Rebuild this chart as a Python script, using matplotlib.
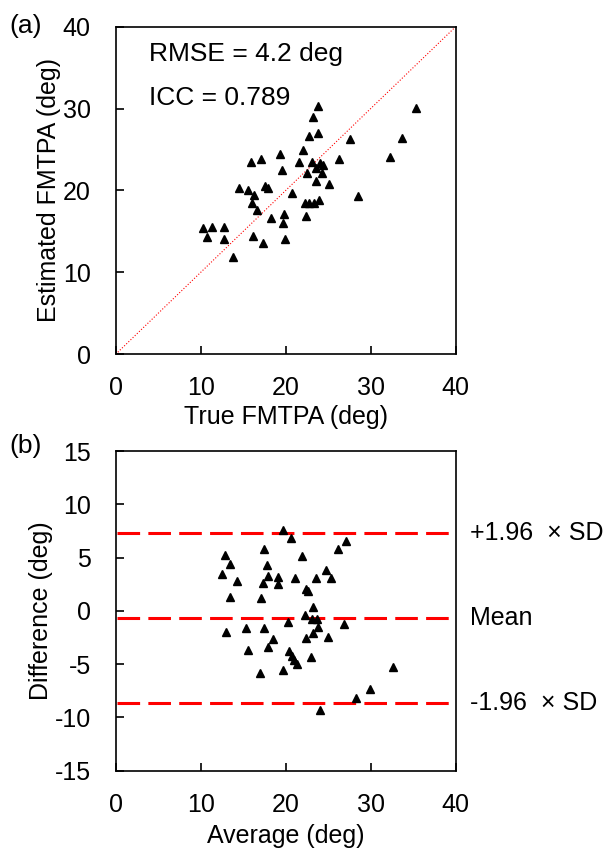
"""Estimated vs true FMTPA scatter (a) and Bland-Altman plot (b)."""
import numpy as np
import matplotlib.pyplot as plt
import matplotlib as mpl

mpl.rcParams.update({
    "font.family": ["Liberation Sans", "DejaVu Sans"],
    "font.size": 18,
    "axes.unicode_minus": False,
    "axes.linewidth": 1.2,
})

# (a) true vs estimated FMTPA (deg)
true_deg = [23.76, 23.25, 23.76, 22.78, 27.56, 22.0, 19.33, 17.09, 15.88, 26.27,
            32.27, 21.6, 23.06, 24.04, 24.42, 23.56, 19.53, 22.54, 24.23, 23.56,
            25.13, 14.54, 15.6, 17.56, 17.95, 16.27, 20.78, 28.54, 16.0, 22.27,
            22.78, 23.33, 23.95, 16.59, 19.84, 18.23, 22.39, 19.64, 10.23, 11.29,
            12.78, 10.78, 12.78, 16.12, 19.92, 17.37, 13.76, 35.33, 33.65]
est_deg = [30.3, 29.0, 27.0, 26.6, 26.25, 24.95, 24.45, 23.9, 23.5, 23.85,
           24.05, 23.44, 23.44, 23.3, 23.1, 22.7, 22.5, 22.17, 22.1, 21.1,
           20.8, 20.35, 20.0, 20.55, 20.35, 19.45, 19.66, 19.33, 18.44, 18.51,
           18.51, 18.51, 18.84, 17.62, 17.13, 16.68, 16.89, 16.07, 15.46, 15.5,
           15.5, 14.36, 14.04, 14.48, 14.08, 13.63, 11.92, 30.04, 26.37]

# (b) Bland-Altman: average vs difference (deg)
avg_deg = [19.65, 20.59, 27.09, 26.11, 17.45, 12.86, 21.88, 13.45, 17.76, 12.54,
           17.88, 19.13, 21.09, 24.74, 23.53, 25.33, 14.23, 17.37, 19.13, 22.39,
           22.66, 13.45, 17.09, 23.25, 22.27, 23.06, 23.72, 23.84, 26.86, 20.24,
           23.25, 12.94, 15.33, 17.45, 18.55, 22.35, 25.01, 17.88, 15.6, 20.39,
           20.7, 20.98, 21.37, 22.98, 19.72, 16.98, 28.24, 29.92, 24.04, 32.66]
diff_deg = [7.59, 6.81, 6.59, 5.78, 5.81, 5.25, 5.16, 4.41, 4.28, 3.47,
            3.28, 3.16, 3.12, 3.84, 3.06, 3.12, 2.81, 2.59, 2.5, 2.03,
            1.88, 1.34, 1.19, 0.4, -0.37, -0.78, -0.78, -1.47, -1.25, -1.09,
            -2.03, -1.94, -1.62, -1.62, -2.65, -2.56, -2.41, -3.41, -3.66, -3.81,
            -4.28, -4.59, -5.0, -4.34, -5.53, -5.84, -8.18, -7.34, -9.28, -5.22]

mean_diff = -0.63
upper_loa = 7.35
lower_loa = -8.61
rmse = 4.2
icc = 0.789

RED = "#ff0000"

fig = plt.figure(figsize=(6.13, 8.52), dpi=100)
ax1 = fig.add_axes([0.1887, 0.5842, 0.5547, 0.3845])
ax2 = fig.add_axes([0.1887, 0.0954, 0.5547, 0.3752])

for ax in (ax1, ax2):
    ax.tick_params(direction="in", length=6, width=1.2)
    ax.tick_params(axis="y", pad=18)
    ax.tick_params(axis="x", pad=16)

# (a)
ax1.plot([0, 40], [0, 40], color=RED, lw=0.8, ls=":")
ax1.plot(true_deg, est_deg, ls="none", marker="^", ms=6.4, color="black")
ax1.set_xlim(0, 40)
ax1.set_ylim(0, 40)
ax1.set_xticks([0, 10, 20, 30, 40])
ax1.set_yticks([0, 10, 20, 30, 40])
ax1.set_xlabel("True FMTPA (deg)", labelpad=3)
ax1.set_ylabel("Estimated FMTPA (deg)", labelpad=1)
ax1.text(0.098, 0.918, f"RMSE = {rmse} deg", transform=ax1.transAxes,
         va="center", ha="left", fontsize=19)
ax1.text(0.098, 0.782, f"ICC = {icc}", transform=ax1.transAxes,
         va="center", ha="left", fontsize=19)
fig.text(0.041, 0.970, "(a)", ha="center", va="center", fontsize=19)

# (b)
for yv in (upper_loa, mean_diff, lower_loa):
    ax2.axhline(yv, xmin=0.005, xmax=0.995, color=RED, lw=2.2,
                ls=(0, (7.4, 2.7)))
ax2.plot(avg_deg, diff_deg, ls="none", marker="^", ms=6.4, color="black")
ax2.set_xlim(0, 40)
ax2.set_ylim(-15, 15)
ax2.set_xticks([0, 10, 20, 30, 40])
ax2.set_yticks([-15, -10, -5, 0, 5, 10, 15])
ax2.set_xlabel("Average (deg)", labelpad=5)
ax2.set_ylabel("Difference (deg)", labelpad=1)
tr = mpl.transforms.blended_transform_factory(ax2.transAxes, ax2.transData)
ax2.text(1.042, upper_loa, "+1.96  \u00d7 SD", transform=tr, va="center", ha="left")
ax2.text(1.042, mean_diff, "Mean", transform=tr, va="center", ha="left")
ax2.text(1.042, lower_loa, "-1.96  \u00d7 SD", transform=tr, va="center", ha="left")
fig.text(0.041, 0.477, "(b)", ha="center", va="center", fontsize=19)

fig.savefig("out.png", dpi=100)
